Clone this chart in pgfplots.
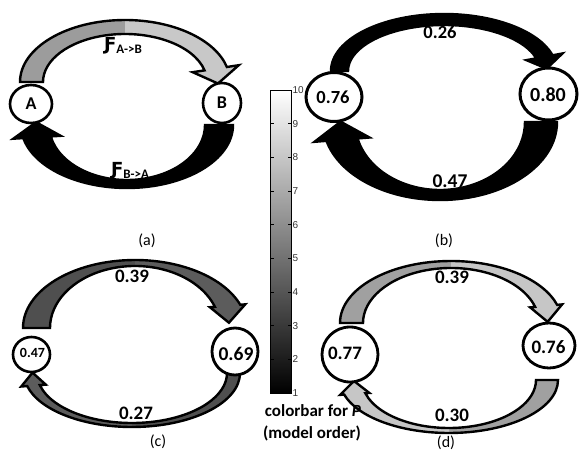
\documentclass[border=0pt]{standalone}
\usepackage{fontspec}
\setmainfont{Carlito}
\newfontfamily\dejavu{DejaVu Sans}
\newfontfamily\tickfont{Liberation Sans}
\usepackage{pgfplots}
\pgfplotsset{compat=1.18}
\usetikzlibrary{calc}
\definecolor{gA}{HTML}{9C9C9C}
\definecolor{gB}{HTML}{C8C8C8}
\definecolor{gC}{HTML}{4F4F4F}
\definecolor{gD}{HTML}{5C5C5C}
\definecolor{gE}{HTML}{A0A0A0}
\definecolor{gF}{HTML}{C6C6C6}

\pgfkeys{/arr/.is family,/arr/.cd,
  c/.store in=\Ac, o/.store in=\Ao, i/.store in=\Ai,
  ta/.store in=\Ata, tm/.store in=\Atm, tb/.store in=\Atb,
  e/.store in=\Ae, L/.store in=\AL, ca/.store in=\Aca, cb/.store in=\Acb}

\newcommand\crescent[1]{%
 \pgfkeys{/arr/.cd,#1}%
 \edef\next{%
  \noexpand\coordinate (C) at (axis cs:\Ac);
  \noexpand\coordinate (Po) at ($(C)+(\Atb:\Ao)$);
  \noexpand\coordinate (Pi) at ($(C)+(\Atb:\Ai)$);
  \noexpand\coordinate (M) at ($(Po)!0.5!(Pi)$);
  \noexpand\coordinate (Ho) at ($(Po)!-\Ae!(Pi)$);
  \noexpand\coordinate (Hi) at ($(Pi)!-\Ae!(Po)$);
  \noexpand\coordinate (T) at ($(M)!\AL!-90:(Po)$);
  \noexpand\fill[\Aca] ($(C)+(\Ata:\Ao)$) arc (\Ata:\Atm:\Ao) -- ($(C)+(\Atm:\Ai)$) arc (\Atm:\Ata:\Ai) -- cycle;
  \noexpand\fill[\Acb] ($(C)+(\Atm:\Ao)$) arc (\Atm:\Atb:\Ao) -- (Ho) -- (T) -- (Hi) -- (Pi) arc (\Atb:\Atm:\Ai) -- cycle;
  \noexpand\draw[line width=2.4pt, line join=miter] ($(C)+(\Ata:\Ao)$) arc (\Ata:\Atb:\Ao) -- (Ho) -- (T) -- (Hi) -- (Pi) arc (\Atb:\Ata:\Ai) -- cycle;
 }\next}

\newcommand\num[1]{\bfseries\fontsize{#1}{#1}\selectfont}

\begin{document}
\begin{tikzpicture}
\begin{axis}[at={(0,0)}, anchor=south west, width=582pt, height=464pt, scale only axis,
  xmin=0, xmax=582, ymin=0, ymax=464, enlargelimits=false, hide axis, clip=false]
% ---- arrows ----
% (a)
\crescent{c={125,382}, o={105pt and 62pt}, i={82pt and 48pt}, ta=180, tm=90, tb=14, e=12pt, L=15pt, ca=gA, cb=gB}
\crescent{c={127,339}, o={106pt and 63pt}, i={78pt and 55pt}, ta=0, tm=-90, tb=-168, e=10pt, L=15pt, ca=black, cb=black}
% (b)
\crescent{c={444,393}, o={113pt and 57pt}, i={96pt and 46pt}, ta=180, tm=90, tb=16, e=10pt, L=12pt, ca=black, cb=black}
\crescent{c={440,342}, o={117pt and 78pt}, i={85pt and 68pt}, ta=0, tm=-90, tb=-166, e=12pt, L=18pt, ca=black, cb=black}
% (c)
\crescent{c={135,136}, o={112pt and 68pt}, i={85pt and 62pt}, ta=180, tm=90, tb=20, e=5pt, L=17pt, ca=gC, cb=gD}
\crescent{c={132,91}, o={108pt and 54pt}, i={95pt and 50pt}, ta=0, tm=-90, tb=-166, e=6pt, L=13pt, ca=gC, cb=gD}
% (d)
\crescent{c={451,141}, o={111pt and 62pt}, i={88pt and 55pt}, ta=180, tm=90, tb=17, e=5pt, L=16pt, ca=gE, cb=gF}
\crescent{c={449,84}, o={109pt and 53pt}, i={87pt and 48pt}, ta=0, tm=-90, tb=-164, e=4pt, L=13pt, ca=gE, cb=gF}
% ---- circles ----
\draw[line width=2.6pt, fill=white] (axis cs:31,360) ellipse [x radius=21pt, y radius=19pt];
\draw[line width=2.6pt, fill=white] (axis cs:222,361) ellipse [x radius=19pt, y radius=20pt];
\draw[line width=3pt, fill=white] (axis cs:334,367) ellipse [x radius=28pt, y radius=24.5pt];
\draw[line width=3pt, fill=white] (axis cs:548.5,370) ellipse [x radius=28.5pt, y radius=26pt];
\draw[line width=2.6pt, fill=white] (axis cs:31.5,109.5) ellipse [x radius=18.5pt, y radius=17.5pt];
\draw[line width=2.8pt, fill=white] (axis cs:235,112.5) ellipse [x radius=23pt, y radius=23.5pt];
\draw[line width=2.8pt, fill=white] (axis cs:350,109.5) ellipse [x radius=28pt, y radius=27.5pt];
\draw[line width=2.8pt, fill=white] (axis cs:549,118.5) ellipse [x radius=26pt, y radius=22.5pt];
% ---- texts ----
\node[font=\num{18}] at (axis cs:31,360) {A};
\node[font=\num{18}] at (axis cs:222,361) {B};
\node[inner sep=0pt] at (axis cs:123,418) {{\dejavu\bfseries\fontsize{18}{18}\selectfont Ƒ}\raisebox{-3pt}{\num{13}A->B}};
\node[inner sep=0pt] at (axis cs:130,293) {{\dejavu\bfseries\fontsize{18}{18}\selectfont Ƒ}\raisebox{-3pt}{\num{13}B->A}};
\node[font=\num{18.5}] at (axis cs:440,432) {0.26};
\node[font=\num{18.5}] at (axis cs:333,367) {0.76};
\node[font=\num{20}] at (axis cs:548,369) {0.80};
\node[font=\num{19.5}] at (axis cs:450,283) {0.47};
\node[font=\num{19}] at (axis cs:132,188) {0.39};
\node[font=\num{14}] at (axis cs:32.5,111) {0.47};
\node[font=\num{19.5}] at (axis cs:236,110) {0.69};
\node[font=\num{19}] at (axis cs:136,51) {0.27};
\node[font=\num{19}] at (axis cs:452,187) {0.39};
\node[font=\num{19}] at (axis cs:345,111) {0.77};
\node[font=\num{19}] at (axis cs:548.5,117) {0.76};
\node[font=\num{19}] at (axis cs:452,49) {0.30};
\node[font=\fontsize{16}{16}\selectfont] at (axis cs:147,223) {(a)};
\node[font=\fontsize{16}{16}\selectfont] at (axis cs:444,223) {(b)};
\node[font=\fontsize{16}{16}\selectfont] at (axis cs:158,22) {(c)};
\node[font=\fontsize{16}{16}\selectfont] at (axis cs:446,21) {(d)};
\node[font=\num{17}] at (axis cs:313,53) {colorbar for \textit{P}};
\node[font=\num{17}] at (axis cs:312,31) {(model order)};
\end{axis}
% ---- colorbar ----
\begin{axis}[at={(270pt,71pt)}, anchor=south west, width=21pt, height=303pt, scale only axis,
  xmin=0, xmax=1, ymin=1, ymax=10, enlargelimits=false, axis on top,
  xtick=\empty, ytick={1,2,...,10}, ytick pos=both, yticklabel pos=right,
  tick align=inside, major tick length=3.5pt,
  /pgf/number format/assume math mode=true,
  yticklabel style={font=\tickfont\fontsize{10}{10}\selectfont, text=black!80, xshift=-2pt},
  axis line style={line width=0.7pt, black}, tick style={line width=0.7pt, black},
  colormap/blackwhite, point meta min=1, point meta max=10]
\addplot[patch, shader=interp, point meta=y] coordinates {
(0,1) (1,1) (1,10)
(0,1) (1,10) (0,10)
};
\end{axis}
\pgfresetboundingbox
\path (0,0) rectangle (582pt,464pt);
\end{tikzpicture}
\end{document}
